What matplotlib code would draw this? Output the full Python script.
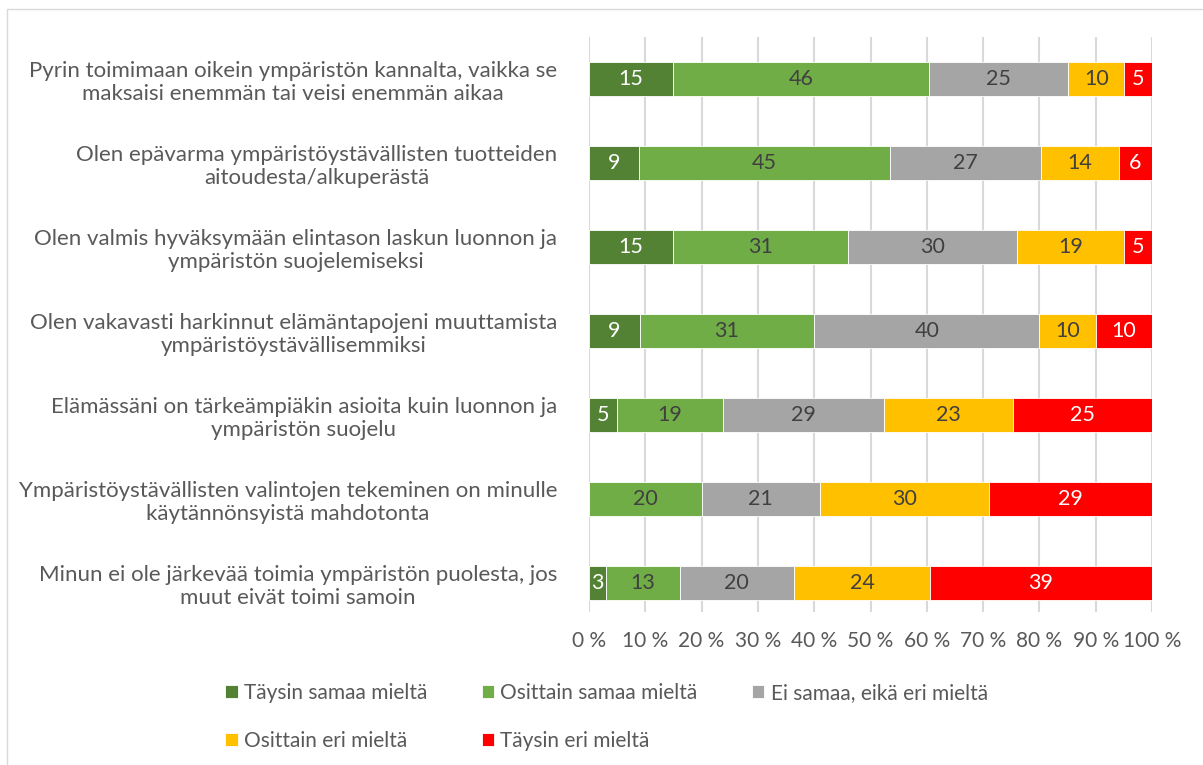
import numpy as np
import matplotlib.pyplot as plt
from matplotlib.patches import Rectangle

plt.rcParams['font.family'] = ['Lato', 'DejaVu Sans']

# väittämät (ylhäältä alas)
kysymykset = [
    'Pyrin toimimaan oikein ympäristön kannalta, vaikka se\nmaksaisi enemmän tai veisi enemmän aikaa',
    'Olen epävarma ympäristöystävällisten tuotteiden\naitoudesta/alkuperästä',
    'Olen valmis hyväksymään elintason laskun luonnon ja\nympäristön suojelemiseksi',
    'Olen vakavasti harkinnut elämäntapojeni muuttamista\nympäristöystävällisemmiksi',
    'Elämässäni on tärkeämpiäkin asioita kuin luonnon ja\nympäristön suojelu',
    'Ympäristöystävällisten valintojen tekeminen on minulle\nkäytännönsyistä mahdotonta',
    'Minun ei ole järkevää toimia ympäristön puolesta, jos\nmuut eivät toimi samoin',
]

taysin_samaa = [15, 9, 15, 9, 5, 0, 3]
osittain_samaa = [46, 45, 31, 31, 19, 20, 13]
ei_samaa_eika_eri = [25, 27, 30, 40, 29, 21, 20]
osittain_eri = [10, 14, 19, 10, 23, 30, 24]
taysin_eri = [5, 6, 5, 10, 25, 29, 39]

sarjat = ['Täysin samaa mieltä', 'Osittain samaa mieltä', 'Ei samaa, eikä eri mieltä',
          'Osittain eri mieltä', 'Täysin eri mieltä']
varit = ['#548235', '#70AD47', '#A5A5A5', '#FFC000', '#FF0000']
tekstivarit = ['white', '#404040', '#404040', '#404040', 'white']

data = np.array([taysin_samaa, osittain_samaa, ei_samaa_eika_eri, osittain_eri, taysin_eri], dtype=float)
osuus = data / data.sum(axis=0) * 100

fig = plt.figure(figsize=(12.03, 7.65), dpi=100)
ax = fig.add_axes([589 / 1203, 1 - 612 / 765, (1152 - 589) / 1203, (612 - 37) / 765])

y = np.arange(len(kysymykset))
vasen = np.zeros(len(kysymykset))
palkit = []
for i in range(len(sarjat)):
    b = ax.barh(y, osuus[i], left=vasen, height=0.4, color=varit[i],
                edgecolor='white', linewidth=0.6, label=sarjat[i], zorder=3)
    for j in range(len(kysymykset)):
        if data[i, j] > 0:
            ax.text(vasen[j] + osuus[i, j] / 2, y[j], '%d' % data[i, j], ha='center', va='center',
                    fontsize=15.5, color=tekstivarit[i], zorder=4)
    vasen += osuus[i]
    palkit.append(b)

ax.set_xlim(0, 100)
ax.set_ylim(6 + 29 / 84, -42 / 84)
ax.set_xticks(np.arange(0, 101, 10))
ax.set_xticklabels(['%d %%' % v for v in range(0, 101, 10)], fontsize=15, color='#595959')
ax.set_yticks(y)
ax.set_yticklabels(kysymykset, fontsize=16, color='#595959')
for lab in ax.get_yticklabels():
    lab.set_multialignment('center')
ax.tick_params(axis='both', length=0)
ax.tick_params(axis='x', pad=14)
ax.tick_params(axis='y', pad=23)
ax.grid(axis='x', color='#D9D9D9', linewidth=1.5, zorder=0)
for s in ax.spines.values():
    s.set_visible(False)

# selite kahdessa rivissä
handles = [palkit[0], palkit[3], palkit[1], palkit[4], palkit[2]]
labels = [sarjat[0], sarjat[3], sarjat[1], sarjat[4], sarjat[2]]
fig.legend(handles, labels, loc='center left', bbox_to_anchor=(215 / 1203, 1 - 717 / 765), ncol=3,
           frameon=False, fontsize=15, labelcolor='#595959', handlelength=0.6, handleheight=0.6,
           handletextpad=0.3, columnspacing=2.6, labelspacing=1.35, borderpad=0)

fig.patches.append(Rectangle((7 / 1203, -0.01), 1.2, 1 - 9 / 765 + 0.01, transform=fig.transFigure,
                             fill=False, edgecolor='#D9D9D9', linewidth=1))

fig.savefig('out.png', dpi=100)
